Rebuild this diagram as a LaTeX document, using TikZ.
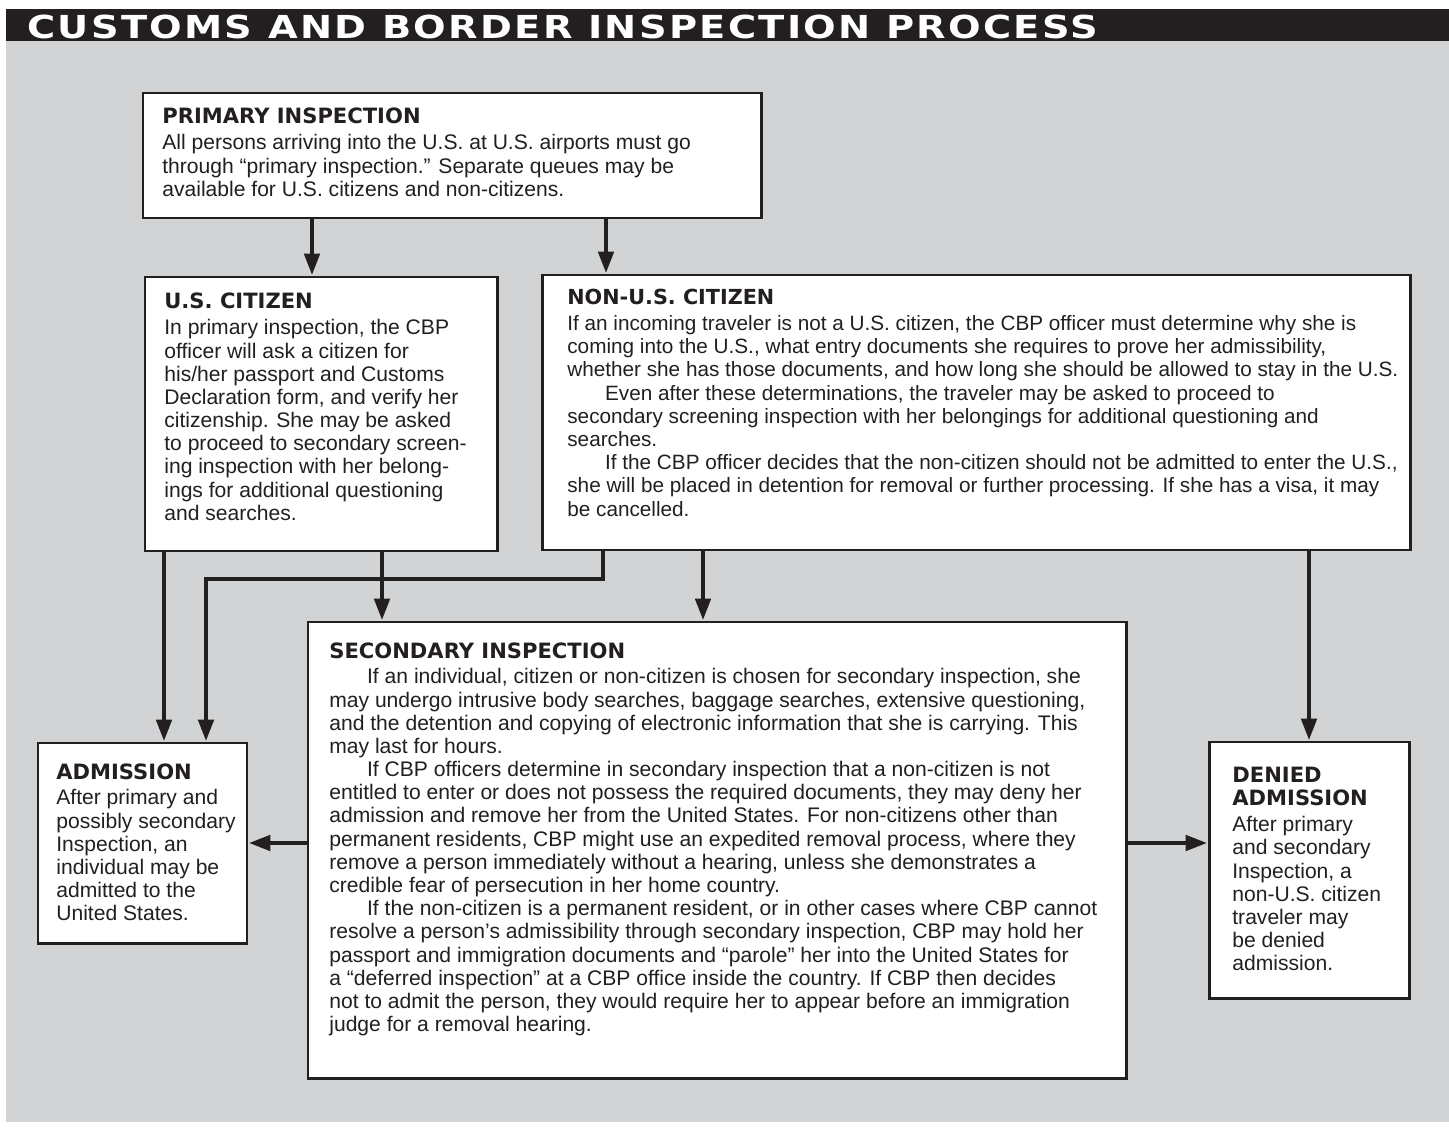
\documentclass[tikz,border=0pt]{standalone}
\usepackage{fontspec}
\usepackage{graphicx}
\setmainfont{Liberation Sans}
\newfontfamily\headfont{DejaVu Sans}
\newfontfamily\titlefont[LetterSpace=6]{DejaVu Sans}
\usetikzlibrary{arrows.meta,fit}
\definecolor{bggrey}{HTML}{D1D3D4}
\definecolor{inkblack}{HTML}{231F20}
\newcommand{\ind}{\hspace*{21.5pt}}
\newcommand{\hd}[1]{{\headfont\bfseries #1}}

\begin{document}
\begin{tikzpicture}[x=0.02cm, y=-0.02cm,
  box/.style = {draw=inkblack, line width=1.7pt, fill=white, inner sep=0pt},
  txt/.style = {anchor=north west, inner sep=0pt, align=left, text=inkblack,
                font=\fontsize{12}{13.2}\selectfont},
  arr/.style = {draw=inkblack, line width=2.8pt, line join=miter,
                -{Triangle[length=12.5pt, width=8.5pt]}}]
\useasboundingbox (0,0) rectangle (1449,1131);
% background and title bar
\fill[bggrey] (6,41) rectangle (1449,1122);
\fill[inkblack] (6,9) rectangle (1449,41);
\node[anchor=west, inner sep=0pt, text=white, font=\titlefont\bfseries] (title) at (27,26.5)
  {\resizebox{21.42cm}{0.47cm}{CUSTOMS AND BORDER INSPECTION PROCESS}};

% boxes
\node[box, fit={(143,93) (761,218)}] (prim) {};
\node[box, fit={(145,277) (497,551)}] (uscit) {};
\node[box, fit={(542,275) (1410,550)}] (nonus) {};
\node[box, fit={(308,622) (1126,1078)}] (sec) {};
\node[box, fit={(38,743) (247,943)}] (adm) {};
\node[box, fit={(1209,742) (1409,998)}] (deny) {};

% texts
\node[txt] (primtxt) at (162,108) {\hd{PRIMARY INSPECTION}\\[1.5pt]
All persons arriving into the U.S. at U.S. airports must go\\
through “primary inspection.” Separate queues may be\\
available for U.S. citizens and non-citizens.};
\node[txt] (uscittxt) at (164,293) {\hd{U.S. CITIZEN}\\[1.5pt]
In primary inspection, the CBP\\
officer will ask a citizen for\\
his/her passport and Customs\\
Declaration form, and verify her\\
citizenship. She may be asked\\
to proceed to secondary screen-\\
ing inspection with her belong-\\
ings for additional questioning\\
and searches.};
\node[txt, font=\fontsize{11.8}{13.2}\selectfont] (nonustxt) at (567,289) {\hd{NON-U.S. CITIZEN}\\[1.5pt]
If an incoming traveler is not a U.S. citizen, the CBP officer must determine why she is\\
coming into the U.S., what entry documents she requires to prove her admissibility,\\
whether she has those documents, and how long she should be allowed to stay in the U.S.\\
\ind Even after these determinations, the traveler may be asked to proceed to\\
secondary screening inspection with her belongings for additional questioning and\\
searches.\\
\ind If the CBP officer decides that the non-citizen should not be admitted to enter the U.S.,\\
she will be placed in detention for removal or further processing. If she has a visa, it may\\
be cancelled.};
\node[txt] (sectxt) at (329,642) {\hd{SECONDARY INSPECTION}\\[1.5pt]
\ind If an individual, citizen or non-citizen is chosen for secondary inspection, she\\
may undergo intrusive body searches, baggage searches, extensive questioning,\\
and the detention and copying of electronic information that she is carrying. This\\
may last for hours.\\
\ind If CBP officers determine in secondary inspection that a non-citizen is not\\
entitled to enter or does not possess the required documents, they may deny her\\
admission and remove her from the United States. For non-citizens other than\\
permanent residents, CBP might use an expedited removal process, where they\\
remove a person immediately without a hearing, unless she demonstrates a\\
credible fear of persecution in her home country.\\
\ind If the non-citizen is a permanent resident, or in other cases where CBP cannot\\
resolve a person’s admissibility through secondary inspection, CBP may hold her\\
passport and immigration documents and “parole” her into the United States for\\
a “deferred inspection” at a CBP office inside the country. If CBP then decides\\
not to admit the person, they would require her to appear before an immigration\\
judge for a removal hearing.};
\node[txt] (admtxt) at (56,763) {\hd{ADMISSION}\\[1.5pt]
After primary and\\
possibly secondary\\
Inspection, an\\
individual may be\\
admitted to the\\
United States.};
\node[txt] (denytxt) at (1232,767) {\hd{DENIED}\\
\hd{ADMISSION}\\[1.5pt]
After primary\\
and secondary\\
Inspection, a\\
non-U.S. citizen\\
traveler may\\
be denied\\
admission.};

% arrow columns and rows
\coordinate (c1) at (312,0);
\coordinate (c2) at (606,0);
\coordinate (c3) at (164,0);
\coordinate (c4) at (382,0);
\coordinate (c5) at (206,0);
\coordinate (c6) at (603,0);
\coordinate (c7) at (703,0);
\coordinate (c8) at (1309,0);
\coordinate (k1) at (0,579);
\coordinate (r1) at (0,843);

\draw[arr] (prim.south -| c1) -- (uscit.north -| c1);
\draw[arr] (prim.south -| c2) -- (nonus.north -| c2);
\draw[arr] (uscit.south -| c3) -- (adm.north -| c3);
\draw[arr] (nonus.south -| c6) |- (k1 -| c5) -- (adm.north -| c5);
\draw[arr] (uscit.south -| c4) -- (sec.north -| c4);
\draw[arr] (nonus.south -| c7) -- (sec.north -| c7);
\draw[arr] (nonus.south -| c8) -- (deny.north -| c8);
\draw[arr] (sec.west |- r1) -- (adm.east |- r1);
\draw[arr] (sec.east |- r1) -- (deny.west |- r1);
\end{tikzpicture}
\end{document}
